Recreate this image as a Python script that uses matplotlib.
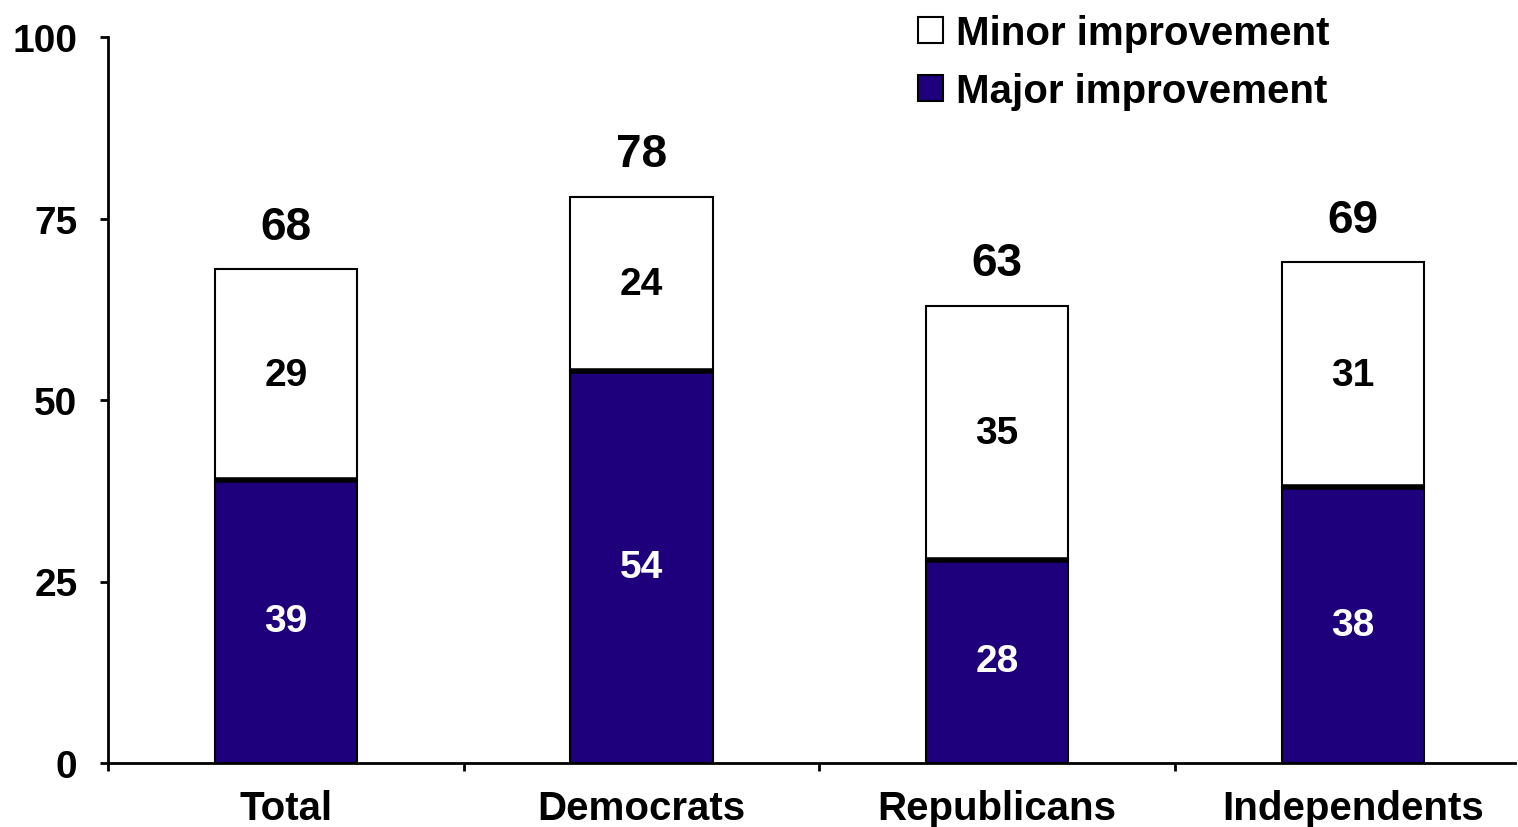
import matplotlib
matplotlib.use('Agg')
from matplotlib import pyplot as plt
from matplotlib.patches import Patch
import numpy as np

plt.rcParams['font.family'] = ['Liberation Sans', 'DejaVu Sans']
plt.rcParams['font.weight'] = 'bold'

# Data
groups = ['Total', 'Democrats', 'Republicans', 'Independents']
major = [39, 54, 28, 38]
minor = [29, 24, 35, 31]
totals = [68, 78, 63, 69]

navy = '#1e007c'
bar_w = 0.40

fig = plt.figure(figsize=(15.18, 8.28), dpi=100)
ax = fig.add_axes([108 / 1518, 1 - 764 / 828, (1515 - 108) / 1518, (764 - 38) / 828])

x = np.arange(len(groups))
ax.bar(x, major, bar_w, color=navy, edgecolor='black', linewidth=1.5, zorder=2)
ax.bar(x, minor, bar_w, bottom=major, color='white', edgecolor='black', linewidth=1.5, zorder=2)
# thick divider between the two segments
ax.hlines(major, x - bar_w / 2, x + bar_w / 2, colors='black', linewidth=4, zorder=3)

for xi, mj, mn, tot in zip(x, major, minor, totals):
    ax.text(xi, mj / 2, str(mj), ha='center', va='center', color='white', fontsize=28, fontweight='bold')
    ax.text(xi, mj + mn / 2, str(mn), ha='center', va='center', color='black', fontsize=28, fontweight='bold')
    ax.annotate(str(tot), (xi, mj + mn), xytext=(0, 22), textcoords='offset points',
                ha='center', va='baseline', fontsize=33, fontweight='bold')

ax.set_xlim(-0.5, 3.456)
ax.set_ylim(0, 100)
ax.set_yticks([0, 25, 50, 75, 100])

# marks between groups, labels under the bars
ax.set_xticks([-0.5, 0.5, 1.5, 2.5])
ax.set_xticklabels([])
ax.set_xticks(x, minor=True)
ax.set_xticklabels(groups, minor=True)
ax.tick_params(axis='x', which='minor', length=0, pad=19, labelsize=29)
ax.tick_params(axis='x', which='major', direction='out', length=6, width=2)
ax.tick_params(axis='y', direction='out', length=6, width=2, pad=16, labelsize=28)

for side in ['top', 'right']:
    ax.spines[side].set_visible(False)
for side in ['left', 'bottom']:
    ax.spines[side].set_linewidth(2)

handles = [Patch(facecolor='white', edgecolor='black', linewidth=1.5, label='Minor improvement'),
           Patch(facecolor=navy, edgecolor='black', linewidth=1.5, label='Major improvement')]
fig.legend(handles=handles, loc='upper left', bbox_to_anchor=(918 / 1518, 1 - 15 / 828),
           frameon=False, fontsize=29, handlelength=0.62, handleheight=0.62,
           handletextpad=0.32, labelspacing=0.5, borderpad=0.0, borderaxespad=0.0)

fig.savefig('out.png', dpi=100)
